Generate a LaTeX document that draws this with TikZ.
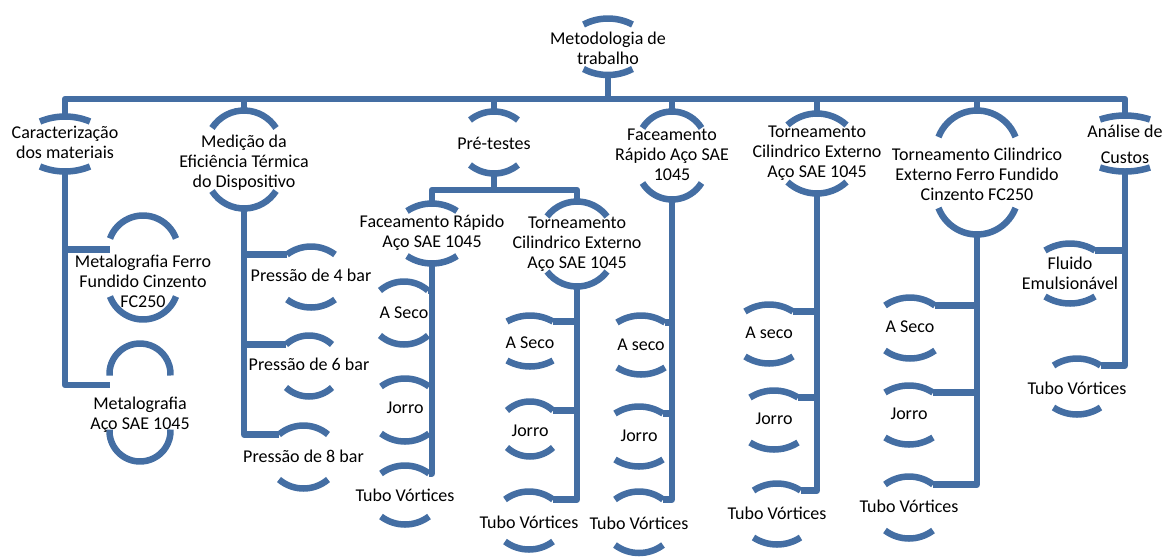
\documentclass[tikz,border=0pt]{standalone}
\usepackage{fontspec}
\setmainfont{Carlito}
\usetikzlibrary{backgrounds}
\definecolor{hblue}{RGB}{68,110,163}
% shape: name, x, top y, bottom y, half width, rise, text y, text
\NewDocumentCommand\hnode{mmmmmmmm}{%
  \pgfmathsetmacro\hnR{(#5*#5+#6*#6)/(2*#6)}%
  \pgfmathsetmacro\hnP{acos((\hnR-#6)/\hnR)}%
  \node[hole, minimum width={2*#5pt}, minimum height={(#4-#3)*1pt}] (#1) at (#2,{(#3+#4)/2}) {};
  \coordinate (#1-tl) at (#2-#5,#3+#6);
  \coordinate (#1-tr) at (#2+#5,#3+#6);
  \draw[rim] (#1-tl) arc[start angle=90+\hnP, end angle=90-\hnP, radius=\hnR pt];
  \draw[rim] (#2-#5,#4-#6) arc[start angle=270-\hnP, end angle=270+\hnP, radius=\hnR pt];
  \node[lbl] (#1-t) at (#2,#7) {#8};
}

\begin{document}
\begin{tikzpicture}[x=1pt, y=-1pt,
    rim/.style={draw=hblue, line width=6.5pt},
    link/.style={draw=hblue, line width=6.5pt, line join=round},
    hole/.style={inner sep=0pt, outer sep=0pt},
    lbl/.style={align=center, inner sep=0pt, font=\fontsize{18}{20}\selectfont}]
  \useasboundingbox (0,0) rectangle (1171,558);

  \hnode{root}{608}{18.5}{75}{24.5}{6}{48}{Metodologia de\\trabalho}

  % first level
  \hnode{car}{65}{116.5}{171.5}{25}{5}{142.5}{Caracterização\\dos materiais}
  \hnode{med}{244}{110.5}{208.5}{32}{17.5}{163}{Medição da\\Eficiência Térmica\\do Dispositivo}
  \hnode{pre}{494}{111.5}{173.5}{24}{8.5}{143}{Pré-testes}
  \hnode{fac}{672}{111.5}{199.5}{29.5}{16.5}{155}{Faceamento\\Rápido Aço SAE\\1045}
  \hnode{tca}{817}{113.5}{193.5}{29.5}{11.5}{153}{Torneamento\\Cilindrico Externo\\Aço SAE 1045}
  \hnode{tcf}{977}{110.5}{234.5}{38.5}{26.5}{174}{Torneamento Cilindrico\\Externo Ferro Fundido\\Cinzento FC250}
  \hnode{ana}{1125}{115.5}{171.5}{25}{4}{144}{Análise de\\[6pt]Custos}

  % materiais
  \hnode{mf}{143}{215.5}{319.5}{33}{23}{281}{Metalografia Ferro\\Fundido Cinzento\\FC250}
  \hnode{ma}{140}{343.5}{461.5}{30.5}{32}{414.5}{Metalografia\\Aço SAE 1045}

  % pressoes
  \hnode{p4}{311}{246.5}{307.5}{24}{8}{275.5}{Pressão de 4 bar}
  \hnode{p6}{309}{335.5}{396.5}{23}{9}{364}{Pressão de 6 bar}
  \hnode{p8}{303.5}{425.5}{488.5}{24.5}{9}{456}{Pressão de 8 bar}

  % pre-testes
  \hnode{fr}{432}{203.5}{263.5}{25}{7.5}{232.5}{Faceamento Rápido\\Aço SAE 1045}
  \hnode{tc}{577}{201.5}{286.5}{30}{15}{244}{Torneamento\\Cilindrico Externo\\Aço SAE 1045}
  \hnode{fr1}{404}{281.5}{344.5}{24}{9}{313}{A Seco}
  \hnode{fr2}{405}{378.5}{441.5}{24}{8}{408}{Jorro}
  \hnode{fr3}{405}{465.5}{524.5}{24}{8}{495}{Tubo Vórtices}
  \hnode{tc1}{530}{315.5}{366.5}{23}{6}{343}{A Seco}
  \hnode{tc2}{530}{401.5}{456.5}{23}{9}{431}{Jorro}
  \hnode{tc3}{529}{491.5}{549.5}{24}{8}{522}{Tubo Vórtices}

  % faceamento
  \hnode{fa1}{641}{315.5}{374.5}{24}{7}{345}{A seco}
  \hnode{fa2}{639}{406.5}{466.5}{24}{7}{436}{Jorro}
  \hnode{fa3}{639}{491.5}{553}{24}{8}{523}{Tubo Vórtices}

  % torneamento aco
  \hnode{ta1}{769}{304.5}{363.5}{24}{7}{333}{A seco}
  \hnode{ta2}{774}{390.5}{449.5}{24}{7}{419}{Jorro}
  \hnode{ta3}{777}{483.5}{544.5}{23.5}{7}{513}{Tubo Vórtices}

  % torneamento ferro fundido
  \hnode{tf1}{910}{297.5}{358.5}{25}{8}{327}{A Seco}
  \hnode{tf2}{909}{385.5}{444.5}{24}{7}{414}{Jorro}
  \hnode{tf3}{909}{476.5}{538.5}{24}{8}{506}{Tubo Vórtices}

  % custos
  \hnode{an1}{1070}{243.5}{303.5}{25}{7}{273}{Fluido\\Emulsionável}
  \hnode{an2}{1077}{358.5}{414.5}{23.5}{7}{388}{Tubo Vórtices}

  \begin{scope}[on background layer]
    \coordinate (bus) at (608,99);
    \foreach \c in {car,med,pre,fac,tca,tcf,ana}
      \draw[link] (root.south) -- (bus) -| (\c.north);
    \draw[link] (car.south) |- ([yshift=-11pt]mf-tl);
    \draw[link] (car.south) |- ([yshift=-9.5pt]ma-tl);
    \foreach \c in {p4,p6,p8}
      \draw[link] (med.south) |- (\c-tl);
    \coordinate (prebus) at (494,190);
    \foreach \c in {fr,tc}
      \draw[link] (pre.south) -- (prebus) -| (\c.north);
    \foreach \c in {fr1,fr2,fr3}
      \draw[link] (fr.south) |- (\c-tr);
    \foreach \c in {tc1,tc2,tc3}
      \draw[link] (tc.south) |- (\c-tr);
    \foreach \c in {fa1,fa2,fa3}
      \draw[link] (fac.south) |- (\c-tr);
    \foreach \c in {ta1,ta2,ta3}
      \draw[link] (tca.south) |- (\c-tr);
    \foreach \c in {tf1,tf2,tf3}
      \draw[link] (tcf.south) |- (\c-tr);
    \foreach \c in {an1,an2}
      \draw[link] (ana.south) |- (\c-tr);
  \end{scope}
\end{tikzpicture}
\end{document}
